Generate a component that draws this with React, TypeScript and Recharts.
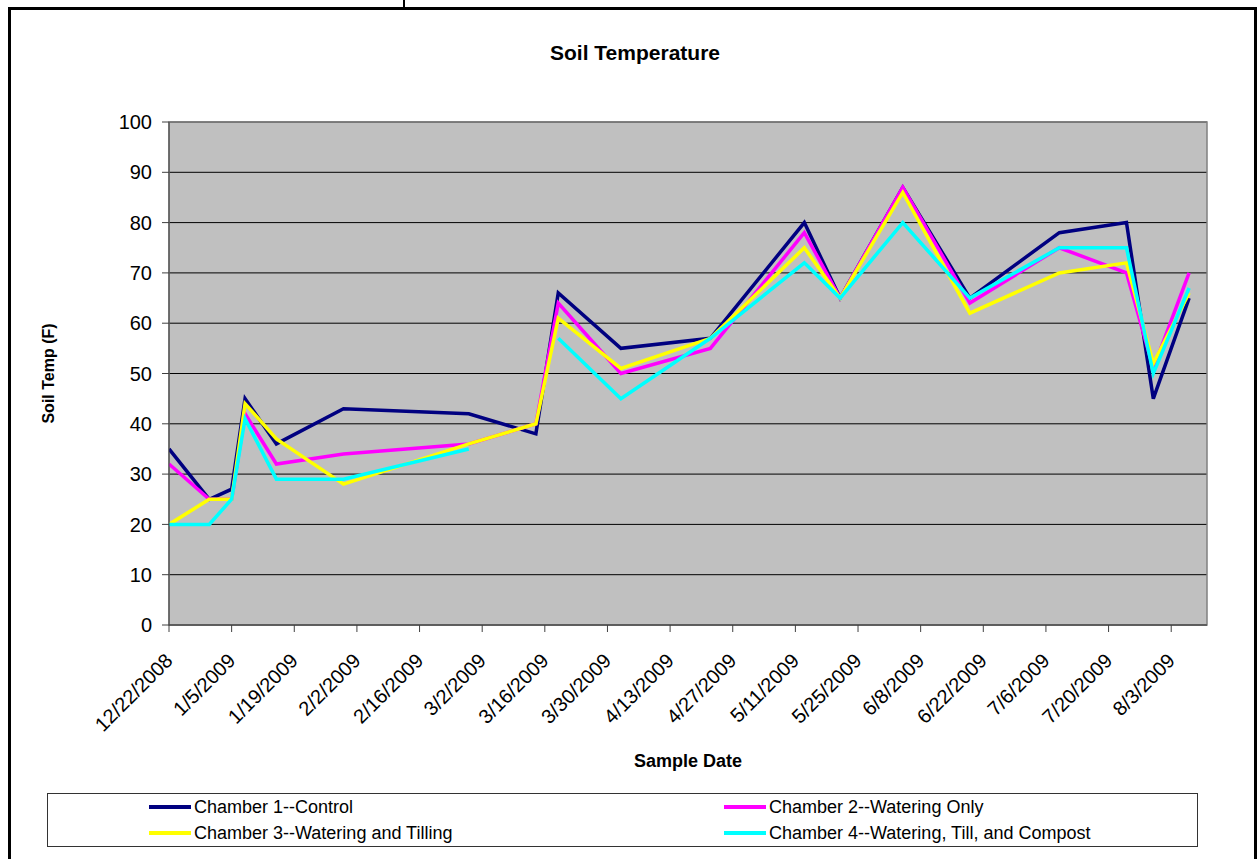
import { LineChart, Line, XAxis, YAxis, CartesianGrid, Legend, ReferenceArea } from "recharts";

const sampleDates = [
  "12/22/2008", "12/31/2008", "1/5/2009", "1/8/2009", "1/15/2009", "1/30/2009",
  "2/27/2009", "3/14/2009", "3/19/2009", "4/2/2009", "4/22/2009", "5/13/2009",
  "5/21/2009", "6/4/2009", "6/19/2009", "7/9/2009", "7/24/2009", "7/30/2009", "8/7/2009",
];
const chamber1 = [35, 25, 27, 45, 36, 43, 42, 38, 66, 55, 57, 80, 65, 87, 65, 78, 80, 45, 65];
const chamber2 = [32, 25, 25, 42, 32, 34, 36, 40, 64, 50, 55, 78, 65, 87, 64, 75, 70, 51, 70];
const chamber3 = [20, 25, 25, 44, 37, 28, 36, 40, 61, 51, 57, 75, 65, 86, 62, 70, 72, 52, 66];
const chamber4 = [20, 20, 25, 41, 29, 29, 35, null, 57, 45, 57, 72, 65, 80, 65, 75, 75, 50, 67];

const tickDates = [
  "12/22/2008", "1/5/2009", "1/19/2009", "2/2/2009", "2/16/2009", "3/2/2009",
  "3/16/2009", "3/30/2009", "4/13/2009", "4/27/2009", "5/11/2009", "5/25/2009",
  "6/8/2009", "6/22/2009", "7/6/2009", "7/20/2009", "8/3/2009",
];
const yTicks = [0, 10, 20, 30, 40, 50, 60, 70, 80, 90, 100];
const axisEndDate = "8/11/2009";

const seriesNames = [
  "Chamber 1--Control",
  "Chamber 2--Watering Only",
  "Chamber 3--Watering and Tilling",
  "Chamber 4--Watering, Till, and Compost",
];
const seriesColors = ["#000080", "#FF00FF", "#FFFF00", "#00FFFF"];

const FONT = "'Liberation Sans', Arial, sans-serif";

// days since the first tick date
function dayOf(s: string) {
  const [m, d, y] = s.split("/").map(Number);
  const [m0, d0, y0] = tickDates[0].split("/").map(Number);
  return Math.round((Date.UTC(y, m - 1, d) - Date.UTC(y0, m0 - 1, d0)) / 86400000);
}

const data = sampleDates.map((date, i) => ({
  day: dayOf(date),
  c1: chamber1[i],
  c2: chamber2[i],
  c3: chamber3[i],
  c4: chamber4[i],
}));

const tickDays = tickDates.map(dayOf);
const labelByDay: Record<number, string> = {};
tickDates.forEach((t) => (labelByDay[dayOf(t)] = t));

function DateTick(props: any) {
  const { x, y, payload } = props;
  return (
    <text
      x={x}
      y={y}
      transform={`rotate(-45, ${x}, ${y})`}
      textAnchor="end"
      dominantBaseline="central"
      fontSize={20}
      fontFamily={FONT}
      fill="#000"
    >
      {labelByDay[payload.value]}
    </text>
  );
}

function YTitle(props: any) {
  const vb = props.viewBox || { y: 0, height: 0 };
  const cy = vb.y + vb.height / 2;
  return (
    <text
      x={48}
      y={cy}
      transform={`rotate(-90, 48, ${cy})`}
      textAnchor="middle"
      dominantBaseline="central"
      fontSize={16}
      fontWeight="bold"
      fontFamily={FONT}
      fill="#000"
    >
      Soil Temp (F)
    </text>
  );
}

function XTitle(props: any) {
  const vb = props.viewBox || { x: 0, width: 0 };
  return (
    <text
      x={vb.x + vb.width / 2}
      y={761}
      textAnchor="middle"
      dominantBaseline="central"
      fontSize={18}
      fontWeight="bold"
      fontFamily={FONT}
      fill="#000"
    >
      Sample Date
    </text>
  );
}

function LegendBox(props: any) {
  const items = props.payload || [];
  return (
    <div
      style={{
        position: "relative",
        width: 1151,
        height: 54,
        boxSizing: "border-box",
        border: "1px solid #333",
        background: "#fff",
        fontFamily: FONT,
        fontSize: 18,
      }}
    >
      {items.map((item: any, i: number) => {
        const col = i % 2;
        const row = Math.floor(i / 2);
        const left = col === 0 ? 101 : 676;
        const top = row === 0 ? 13 : 39;
        return (
          <div key={i} style={{ position: "absolute", left, top: top - 11, height: 22, display: "flex", alignItems: "center", whiteSpace: "nowrap" }}>
            <div style={{ width: 42, height: 4, background: item.color, marginRight: 3 }} />
            <span style={{ color: "#000" }}>{item.value}</span>
          </div>
        );
      })}
    </div>
  );
}

export default function App() {
  return (
    <div style={{ position: "relative", width: 1260, height: 859, overflow: "hidden", background: "#fff", fontFamily: FONT }}>
      <style>{"body{margin:0}"}</style>
      <div style={{ position: "absolute", left: 403, top: 0, width: 2, height: 8, background: "#000" }} />
      <div
        style={{
          position: "absolute",
          left: 8,
          top: 7,
          width: 1249,
          height: 900,
          boxSizing: "border-box",
          border: "3px solid #000",
          borderBottom: "none",
        }}
      />
      <div
        style={{
          position: "absolute",
          left: 0,
          top: 41,
          width: 1270,
          textAlign: "center",
          fontSize: 21,
          fontWeight: "bold",
          fontFamily: FONT,
        }}
      >
        Soil Temperature
      </div>
      <LineChart
        width={1260}
        height={859}
        data={data}
        margin={{ top: 122, right: 53, left: 89, bottom: 134 }}
        style={{ position: "absolute", left: 0, top: 0 }}
      >
        <CartesianGrid horizontal vertical={false} stroke="#000" fill="#C0C0C0" fillOpacity={1} />
        <ReferenceArea
          x1={0}
          x2={dayOf(axisEndDate)}
          y1={0}
          y2={100}
          fill="none"
          stroke="#808080"
          strokeWidth={1.5}
        />
        <XAxis
          type="number"
          dataKey="day"
          domain={[0, dayOf(axisEndDate)]}
          ticks={tickDays}
          allowDataOverflow
          interval={0}
          height={100}
          tickSize={7}
          tickMargin={25}
          tick={<DateTick />}
          stroke="#404040"
          label={<XTitle />}
        />
        <YAxis
          type="number"
          domain={[0, 100]}
          ticks={yTicks}
          width={80}
          tickSize={7}
          tickMargin={10}
          interval={0}
          stroke="#404040"
          tick={{ fontSize: 20, fill: "#000", fontFamily: FONT }}
          label={<YTitle />}
        />
        <Legend
          layout="horizontal"
          verticalAlign="middle"
          align="center"
          content={<LegendBox />}
          wrapperStyle={{ position: "absolute", left: 47, top: 793, width: 1151, height: 54 }}
        />
        {["c1", "c2", "c3", "c4"].map((key, i) => (
          <Line
            key={key}
            type="linear"
            dataKey={key}
            name={seriesNames[i]}
            stroke={seriesColors[i]}
            strokeWidth={3.5}
            dot={false}
            activeDot={false}
            connectNulls={false}
            legendType="line"
            isAnimationActive={false}
          />
        ))}
      </LineChart>
    </div>
  );
}
